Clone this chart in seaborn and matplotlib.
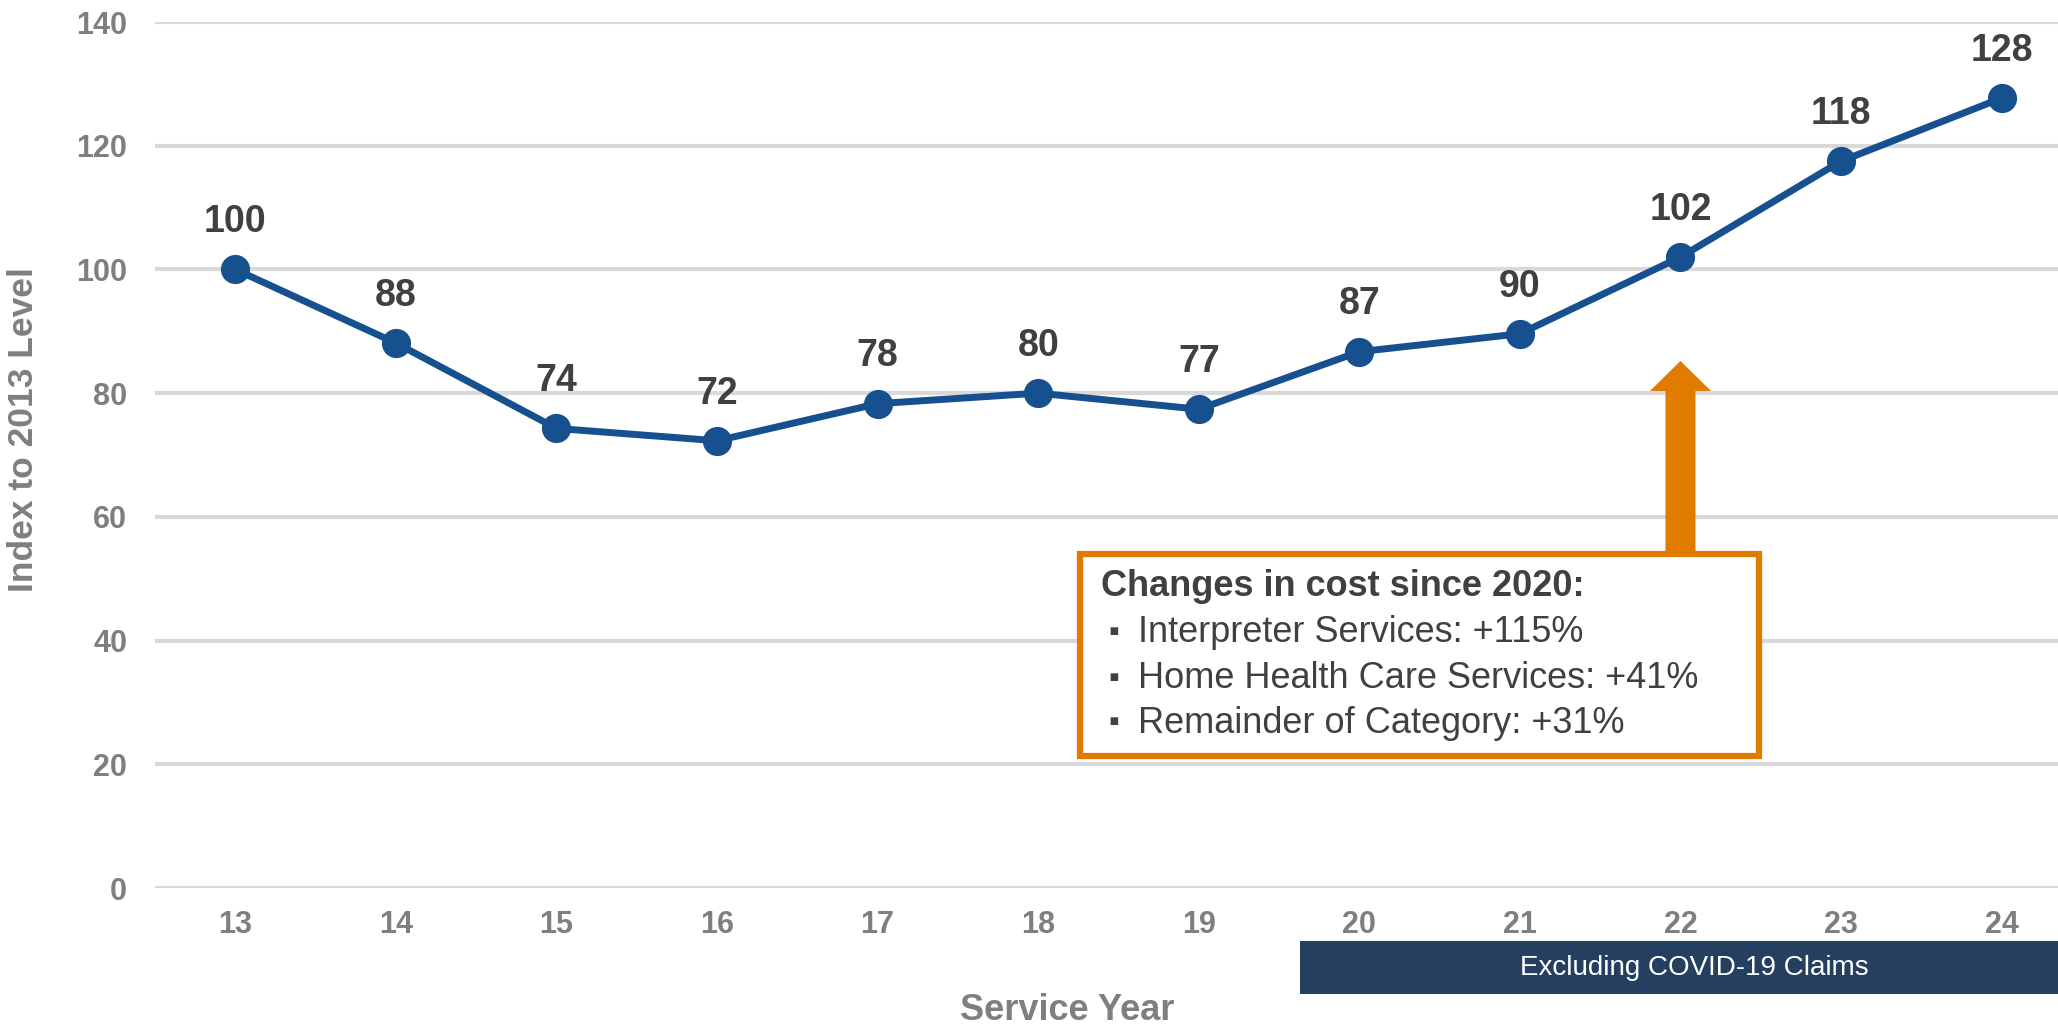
import matplotlib
matplotlib.use("Agg")
import matplotlib.pyplot as plt
import seaborn as sns
import pandas as pd
from matplotlib.patches import Rectangle

# ---- data ----
years = [13, 14, 15, 16, 17, 18, 19, 20, 21, 22, 23, 24]
index_values = [100.0, 88.1, 74.3, 72.3, 78.3, 80.0, 77.4, 86.7, 89.6, 102.0, 117.5, 127.7]
y_ticks = [0, 20, 40, 60, 80, 100, 120, 140]
box_title = "Changes in cost since 2020:"
box_items = ["Interpreter Services: +115%",
             "Home Health Care Services: +41%",
             "Remainder of Category: +31%"]
banner_text = "Excluding COVID-19 Claims"

LINE = "#17508F"
GRID = "#D9D9D9"
TICK = "#7F7F7F"
LABEL = "#404040"
ORANGE = "#E07B00"
NAVY = "#243F60"

sns.set_style("white")
plt.rcParams['font.family'] = ['Liberation Sans', 'DejaVu Sans']

df = pd.DataFrame({"year": years, "value": index_values})

fig = plt.figure(figsize=(20.58, 10.29), dpi=100)
ax = fig.add_axes([155/2058, 1-888/1029, 1-155/2058, (888-22)/1029])

for yt in y_ticks:
    ax.axhline(yt, color=GRID, lw=3.0, zorder=0)

sns.lineplot(data=df, x="year", y="value", ax=ax, color=LINE, lw=5,
             marker="o", markersize=21, markeredgewidth=0, zorder=3)

for x, v in zip(years, index_values):
    ax.annotate(f"{v:.0f}", (x, v), xytext=(0, 34), textcoords="offset points",
                ha="center", va="center", fontsize=27, fontweight="bold",
                color=LABEL, zorder=4)

ax.set_xlim(12.5, 24 + (2058-2001.6)/160.7)
ax.set_ylim(0, 140)
ax.set_xticks(years)
ax.set_xticklabels([str(y) for y in years])
ax.set_yticks(y_ticks)
ax.tick_params(axis="both", length=0, labelsize=22, labelcolor=TICK)
ax.tick_params(axis="x", pad=16)
ax.tick_params(axis="y", pad=20)
for lab in ax.get_xticklabels() + ax.get_yticklabels():
    lab.set_fontweight("bold")
for s in ax.spines.values():
    s.set_visible(False)
ax.set_xlabel("")
ax.set_ylabel("")

# arrow
ax.annotate("", xy=(22, 85.2), xytext=(22, 54.0),
            arrowprops=dict(arrowstyle="simple,head_length=21.6,head_width=44,tail_width=21.6",
                            mutation_scale=1, color=ORANGE, shrinkA=0, shrinkB=0, lw=0),
            zorder=2)

# box
ax.add_patch(Rectangle((18.26, 21.3), 22.49-18.26, 54.0-21.3, facecolor="white",
                       edgecolor=ORANGE, lw=4.5, zorder=5))
ax.text(18.39, 48.7, box_title, ha="left", va="center", fontsize=26,
        fontweight="bold", color=LABEL, zorder=6)
for yy, item in zip([41.3, 33.8, 26.6], box_items):
    ax.text(18.44, yy, "▪", ha="left", va="center", fontsize=22, color=LABEL, zorder=6)
    ax.text(18.62, yy, item, ha="left", va="center", fontsize=26, color=LABEL, zorder=6)

# axis titles
fig.text(24/2058, 1-430/1029, "Index to 2013 Level", rotation=90, ha="center",
         va="center", fontsize=25.5, fontweight="bold", color=TICK)
fig.text(1067/2058, 1-1010/1029, "Service Year", ha="center", va="center",
         fontsize=26, fontweight="bold", color=TICK)

# banner
fig.patches.append(Rectangle((1300/2058, 1-994/1029), 1-1300/2058, 53/1029,
                             transform=fig.transFigure, facecolor=NAVY,
                             edgecolor="none", zorder=1))
fig.text(1694/2058, 1-968/1029, banner_text, ha="center", va="center",
         fontsize=20, color="white", zorder=2)

fig.savefig("out.png", dpi=100)
